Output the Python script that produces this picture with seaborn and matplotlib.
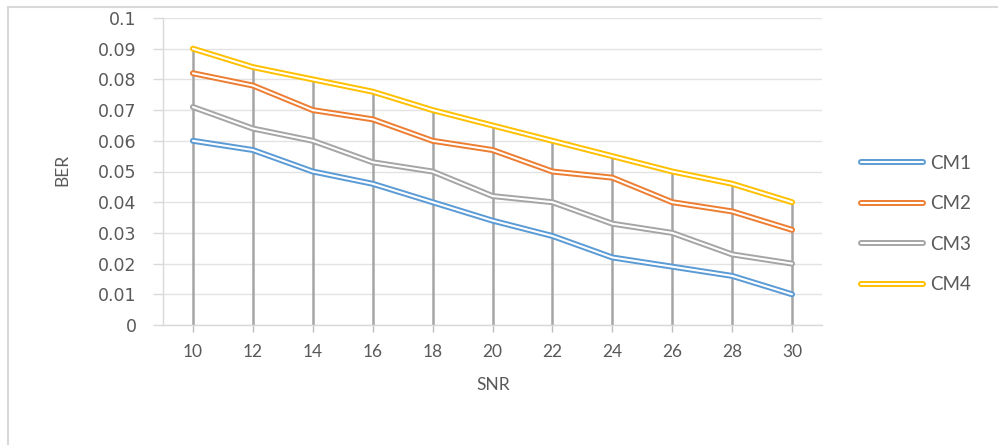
import matplotlib
matplotlib.use("Agg")
import matplotlib.pyplot as plt
import matplotlib.patheffects as pe
from matplotlib.lines import Line2D
from matplotlib.patches import Rectangle
import seaborn as sns
import pandas as pd

# ---- data ----
snr = [10, 12, 14, 16, 18, 20, 22, 24, 26, 28, 30]
cm1 = [0.060, 0.057, 0.050, 0.046, 0.040, 0.034, 0.029, 0.022, 0.019, 0.016, 0.010]
cm2 = [0.082, 0.078, 0.070, 0.067, 0.060, 0.057, 0.050, 0.048, 0.040, 0.037, 0.031]
cm3 = [0.071, 0.064, 0.060, 0.053, 0.050, 0.042, 0.040, 0.033, 0.030, 0.023, 0.020]
cm4 = [0.090, 0.084, 0.080, 0.076, 0.070, 0.065, 0.060, 0.055, 0.050, 0.046, 0.040]
series_names = ["CM1", "CM2", "CM3", "CM4"]
series_colors = ["#5B9BD5", "#ED7D31", "#A5A5A5", "#FFC000"]
y_ticks = [0, 0.01, 0.02, 0.03, 0.04, 0.05, 0.06, 0.07, 0.08, 0.09, 0.1]
y_tick_labels = ["0", "0.01", "0.02", "0.03", "0.04", "0.05", "0.06", "0.07", "0.08", "0.09", "0.1"]

df = pd.DataFrame({
    "SNR": snr * 4,
    "BER": cm1 + cm2 + cm3 + cm4,
    "Series": [n for n in series_names for _ in snr],
})

sns.set_style("white")
plt.rcParams["font.family"] = ["Lato", "DejaVu Sans"]

fig = plt.figure(figsize=(9.98, 4.45), dpi=100)
ax = fig.add_axes([163 / 998, 1 - 325 / 445, 659 / 998, 307 / 445])

# drop lines from highest series down to axis
top = [max(a, b, c, d) for a, b, c, d in zip(cm1, cm2, cm3, cm4)]
ax.vlines(snr, 0, top, colors="#a5a5a5", linewidth=1.8, zorder=2)

sns.lineplot(data=df, x="SNR", y="BER", hue="Series", palette=series_colors,
             linewidth=4.2, legend=False, ax=ax, zorder=3)

OUTER, INNER = 4.3, 1.5
for line, c in zip(ax.lines, series_colors):
    line.set_path_effects([pe.Stroke(linewidth=OUTER, foreground=c),
                           pe.Stroke(linewidth=INNER, foreground="white")])

ax.set_xlim(9, 31)
ax.set_ylim(0, 0.1)
ax.set_xticks(snr)
ax.set_xticklabels([str(s) for s in snr], fontsize=12.5, color="#595959")
ax.set_yticks(y_ticks)
ax.set_yticklabels(y_tick_labels, fontsize=12.5, color="#595959",
                   family=["DejaVu Sans"])
ax.tick_params(axis="x", length=5, width=1, color="#bfbfbf", pad=9, direction="out", bottom=True)
ax.tick_params(axis="y", length=7, width=1, color="#d9d9d9", pad=12, direction="out", left=True)

ax.yaxis.grid(True, color="#e3e3e3", linewidth=1)
ax.xaxis.grid(False)
ax.set_axisbelow(True)
for s in ["top", "right"]:
    ax.spines[s].set_visible(False)
ax.spines["left"].set_color("#d9d9d9")
ax.spines["bottom"].set_color("#d9d9d9")
ax.spines["left"].set_linewidth(1)
ax.spines["bottom"].set_linewidth(1)

ax.set_xlabel("SNR", fontsize=12.5, color="#595959", va="center")
ax.set_ylabel("BER", fontsize=12.5, color="#595959", va="center")
ax.xaxis.set_label_coords((493 - 163) / 659, -(385 - 325) / 307)
ax.yaxis.set_label_coords((62 - 163) / 659, (325 - 170) / 307)

handles = []
for n, c in zip(series_names, series_colors):
    h = Line2D([], [], color=c, linewidth=OUTER, label=n)
    h.set_path_effects([pe.Stroke(linewidth=OUTER, foreground=c),
                        pe.Stroke(linewidth=INNER, foreground="white")])
    handles.append(h)
leg = fig.legend(handles=handles, loc="center left",
                 bbox_to_anchor=(861 / 998, 1 - 224 / 445),
                 frameon=False, fontsize=13.5, handlelength=3.3,
                 handletextpad=0.4, labelspacing=1.25, borderpad=0,
                 borderaxespad=0)
for t in leg.get_texts():
    t.set_color("#595959")

fig.add_artist(Rectangle((7.5 / 998, -0.1), 1.0, 1 - 6.5 / 445 + 0.1,
                         transform=fig.transFigure, fill=False,
                         edgecolor="#d9d9d9", linewidth=1.5))

fig.savefig("out.png", dpi=100, facecolor="white")
